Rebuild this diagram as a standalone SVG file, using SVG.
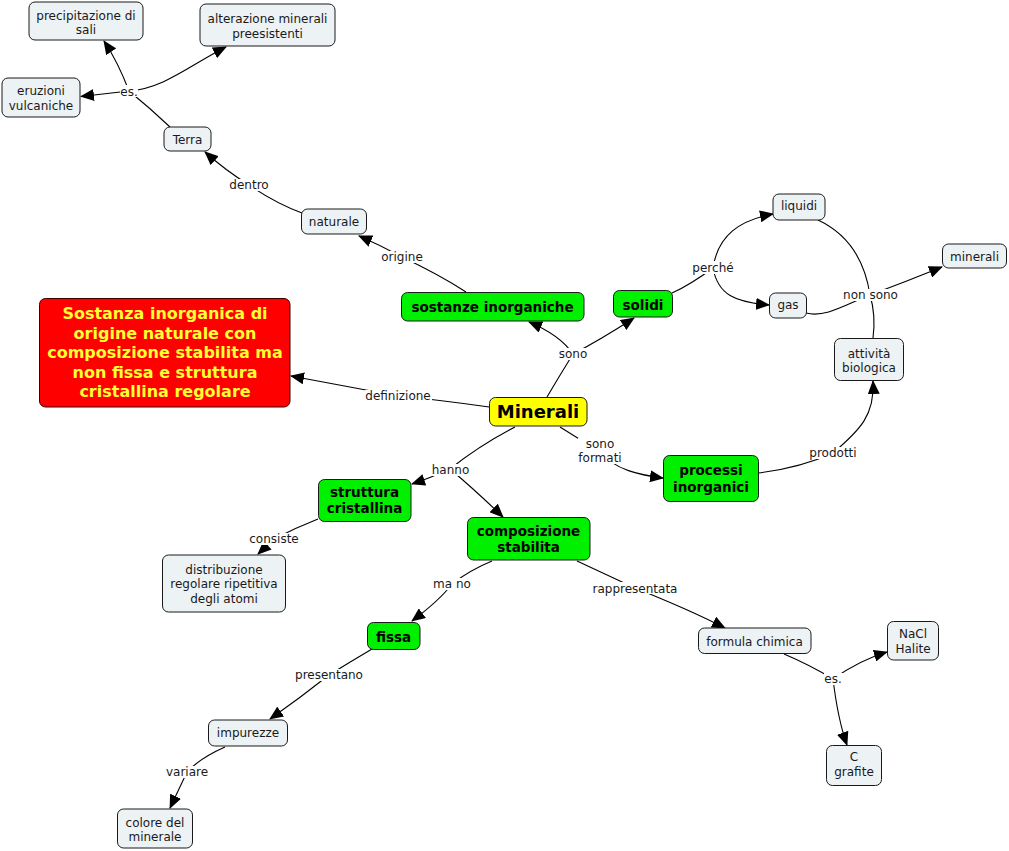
<svg xmlns="http://www.w3.org/2000/svg" width="1009" height="851" viewBox="0 0 1009 851">
<defs>
<marker id="arr" markerUnits="userSpaceOnUse" markerWidth="14" markerHeight="12" viewBox="0 0 14 12" refX="13" refY="6" orient="auto">
<path d="M0,0 L14,6 L0,12 Z" fill="#000"/>
</marker>
<style>
.n rect{fill:#edf2f5;stroke:#1a1a1a;stroke-width:1}
.g rect{fill:#00f000;stroke:#1a1a1a;stroke-width:1}
text{font-family:"DejaVu Sans","Liberation Sans",sans-serif;text-anchor:middle;fill:#1a1a1a}
.t{font-size:12px}
.b{font-size:13.5px;font-weight:bold;fill:#000}
.c path{fill:none;stroke:#000;stroke-width:1.1}
.c path.a{marker-end:url(#arr)}
.l rect{fill:#fff}
.l text{font-size:12px}
</style>
</defs>
<rect width="1009" height="851" fill="#fff"/>
<g class="c" id="connectors">
<path d="M170,127 Q150,108 129,91"/>
<path class="a" d="M129,91 Q118,62 104,41"/>
<path class="a" d="M129,91 C165,88 190,65 226,47"/>
<path class="a" d="M129,91 L81,96.5"/>
<path d="M302,213 Q275,203 249,185"/>
<path class="a" d="M249,185 Q225,170 205,152"/>
<path d="M466,292 Q440,275 402,257"/>
<path class="a" d="M402,257 Q380,245 359,236"/>
<path d="M547,397 Q560,375 573,354"/>
<path class="a" d="M573,354 Q560,335 529,322"/>
<path class="a" d="M573,354 Q600,340 634,318"/>
<path d="M672,293 Q690,285 713,268"/>
<path class="a" d="M713,268 C718,235 740,220 773,214"/>
<path class="a" d="M713,268 C718,295 735,302 769,305"/>
<path d="M818,220 C850,235 865,262 870,295"/>
<path d="M870,295 Q876,315 873,338"/>
<path d="M806,313 C825,318 845,305 870,295"/>
<path class="a" d="M870,295 Q905,282 942,267"/>
<path d="M489,407 Q440,400 398,396"/>
<path class="a" d="M398,396 L291,376"/>
<path d="M515,427 Q480,445 450,469"/>
<path class="a" d="M450,469 Q430,478 412,484"/>
<path class="a" d="M450,469 Q475,490 503,517"/>
<path d="M560,427 L600,452"/>
<path class="a" d="M600,452 C615,470 640,475 663,478"/>
<path d="M758,473 Q800,468 833,453"/>
<path class="a" d="M833,453 C860,430 875,415 873,381"/>
<path d="M318,519 Q295,528 274,539"/>
<path class="a" d="M274,539 L258,554"/>
<path d="M492,561 Q470,570 452,584"/>
<path class="a" d="M452,584 Q440,600 412,621"/>
<path d="M577,561 L635,588"/>
<path class="a" d="M635,588 Q690,610 725,628"/>
<path d="M784,654 Q810,665 833,679"/>
<path class="a" d="M833,679 Q860,660 887,652"/>
<path class="a" d="M833,679 Q838,720 847,745"/>
<path d="M372,649 Q350,662 329,675"/>
<path class="a" d="M329,675 Q300,698 270,719"/>
<path d="M225,747 Q200,758 187,772"/>
<path class="a" d="M187,772 L170,808"/>
</g>
<g class="l" id="labels">
<rect x="120" y="85" width="18" height="12"/><text x="129" y="95.5">es.</text>
<rect x="229" y="179" width="40" height="12"/><text x="249" y="189">dentro</text>
<rect x="380" y="251" width="44" height="12"/><text x="402" y="261">origine</text>
<rect x="560" y="348" width="26" height="12"/><text x="573" y="358">sono</text>
<rect x="692" y="261" width="42" height="13"/><text x="713" y="271.5">perché</text>
<rect x="844" y="289" width="54" height="12"/><text x="870.5" y="299">non sono</text>
<rect x="365" y="390" width="67" height="12"/><text x="398" y="400">definizione</text>
<rect x="432" y="464" width="37" height="12"/><text x="450.5" y="474">hanno</text>
<rect x="578" y="438" width="44" height="26"/><text x="600" y="448">sono</text><text x="600" y="462">formati</text>
<rect x="808" y="447" width="50" height="12"/><text x="833" y="457">prodotti</text>
<rect x="249" y="533" width="50" height="12"/><text x="274" y="543">consiste</text>
<rect x="433" y="578" width="38" height="12"/><text x="452" y="588">ma no</text>
<rect x="594" y="582" width="82" height="12"/><text x="635" y="592.5">rappresentata</text>
<rect x="824" y="673" width="19" height="12"/><text x="833" y="683">es.</text>
<rect x="296" y="669" width="66" height="12"/><text x="329" y="679">presentano</text>
<rect x="165" y="766" width="44" height="12"/><text x="187" y="776">variare</text>
</g>
<g id="n-precipitazione" class="n"><rect x="29" y="2" width="114" height="38" rx="6"/><text class="t" x="86" y="19.5">precipitazione di</text><text class="t" x="86" y="33.5">sali</text></g>
<g id="n-alterazione" class="n"><rect x="200" y="4" width="135" height="42" rx="6"/><text class="t" x="267.5" y="22.5">alterazione minerali</text><text class="t" x="267.5" y="37.5">preesistenti</text></g>
<g id="n-eruzioni" class="n"><rect x="2" y="78" width="78" height="39" rx="6"/><text class="t" x="41" y="95">eruzioni</text><text class="t" x="41" y="109.5">vulcaniche</text></g>
<g id="n-terra" class="n"><rect x="164" y="127" width="47" height="24" rx="6"/><text class="t" x="187.5" y="143.5">Terra</text></g>
<g id="n-naturale" class="n"><rect x="301.5" y="209" width="65" height="25" rx="6"/><text class="t" x="334" y="226">naturale</text></g>
<g id="n-sostanze" class="g"><rect x="401.5" y="292.5" width="182.5" height="28.5" rx="6"/><text class="b" x="492.5" y="311.5">sostanze inorganiche</text></g>
<g id="n-solidi" class="g"><rect x="613.5" y="290.5" width="59" height="26.5" rx="6"/><text class="b" x="643" y="310">solidi</text></g>
<g id="n-liquidi" class="n"><rect x="773" y="194" width="52" height="26" rx="6"/><text class="t" x="799" y="210">liquidi</text></g>
<g id="n-minerali" class="n"><rect x="942.5" y="244" width="64" height="24" rx="6"/><text class="t" x="974.5" y="260.5">minerali</text></g>
<g id="n-gas" class="n"><rect x="769.5" y="293" width="37" height="25" rx="6"/><text class="t" x="788" y="309">gas</text></g>
<g id="n-attivita" class="n"><rect x="834.5" y="338.5" width="69" height="42" rx="6"/><text class="t" x="869" y="357.5">attività</text><text class="t" x="869" y="371.5">biologica</text></g>
<g id="n-definizione"><rect x="39.5" y="298.5" width="250.5" height="108.5" rx="6" fill="#ff0000" stroke="#3a0000" stroke-width="1"/>
<text x="165" y="319" style="font-size:16px;font-weight:bold;fill:#ffff33">Sostanza inorganica di</text>
<text x="165" y="338.5" style="font-size:16px;font-weight:bold;fill:#ffff33">origine naturale con</text>
<text x="165" y="358" style="font-size:16px;font-weight:bold;fill:#ffff33">composizione stabilita ma</text>
<text x="165" y="377.5" style="font-size:16px;font-weight:bold;fill:#ffff33">non fissa e struttura</text>
<text x="165" y="397" style="font-size:16px;font-weight:bold;fill:#ffff33">cristallina regolare</text></g>
<g id="n-minerali-main"><rect x="489.5" y="397.5" width="97.5" height="28.5" rx="6" fill="#ffff00" stroke="#1a1a1a" stroke-width="1"/><text x="538" y="417.5" style="font-size:18px;font-weight:bold;fill:#000">Minerali</text></g>
<g id="n-processi" class="g"><rect x="663.5" y="455.5" width="95" height="46" rx="6"/><text class="b" x="711" y="475">processi</text><text class="b" x="711" y="491.5">inorganici</text></g>
<g id="n-struttura" class="g"><rect x="318.5" y="479.5" width="92.5" height="42" rx="6"/><text class="b" x="364.5" y="496.5">struttura</text><text class="b" x="364.5" y="513">cristallina</text></g>
<g id="n-composizione" class="g"><rect x="467.5" y="517.5" width="122.5" height="42.5" rx="6"/><text class="b" x="528.5" y="535.5">composizione</text><text class="b" x="528.5" y="552">stabilita</text></g>
<g id="n-distribuzione" class="n"><rect x="162.5" y="555" width="123" height="57" rx="6"/><text class="t" x="224" y="573.5">distribuzione</text><text class="t" x="224" y="588">regolare ripetitiva</text><text class="t" x="224" y="602.5">degli atomi</text></g>
<g id="n-fissa" class="g"><rect x="367.5" y="622.5" width="52.5" height="27" rx="6"/><text class="b" x="393.5" y="641.5">fissa</text></g>
<g id="n-formula" class="n"><rect x="698.5" y="628" width="112.5" height="25.5" rx="6"/><text class="t" x="754.5" y="646">formula chimica</text></g>
<g id="n-nacl" class="n"><rect x="887.5" y="621.5" width="51" height="38.5" rx="6"/><text class="t" x="913" y="637.5">NaCl</text><text class="t" x="913" y="652.5">Halite</text></g>
<g id="n-grafite" class="n"><rect x="826.5" y="745.5" width="55" height="40" rx="6"/><text class="t" x="854" y="761">C</text><text class="t" x="854" y="776">grafite</text></g>
<g id="n-impurezze" class="n"><rect x="208.5" y="720" width="79" height="26" rx="6"/><text class="t" x="248" y="736.5">impurezze</text></g>
<g id="n-colore" class="n"><rect x="117.5" y="809" width="75" height="39" rx="6"/><text class="t" x="155" y="827">colore del</text><text class="t" x="155" y="840.5">minerale</text></g>
</svg>
